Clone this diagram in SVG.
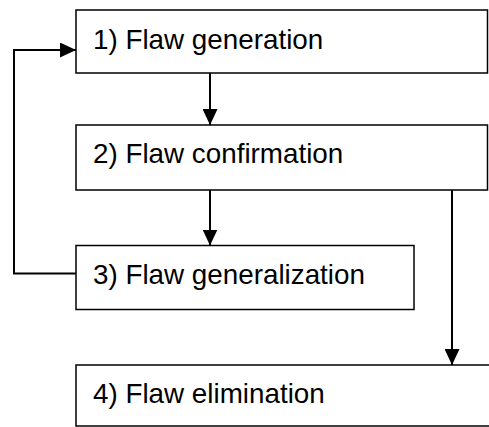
<svg xmlns="http://www.w3.org/2000/svg" width="489" height="427" viewBox="0 0 489 427">
<defs>
<style>
.box{fill:#fff;stroke:#000;stroke-width:1.5}
.lbl{font-family:"Liberation Sans",Arial,sans-serif;font-size:27.8px;fill:#000}
.conn{fill:none;stroke:#000;stroke-width:2}
</style>
<marker id="ah" viewBox="0 0 16 15" refX="16" refY="7.5" markerWidth="16" markerHeight="15" markerUnits="userSpaceOnUse" orient="auto">
<path d="M0,0 L16,7.5 L0,15 Z" fill="#000"/>
</marker>
</defs>
<rect width="489" height="427" fill="#fff"/>
<g id="n1"><rect class="box" x="76" y="10" width="411.5" height="63"/><text class="lbl" x="93" y="48.5">1) Flaw generation</text></g>
<g id="n2"><rect class="box" x="76" y="125" width="411.5" height="65"/><text class="lbl" x="93" y="163">2) Flaw confirmation</text></g>
<g id="n3"><rect class="box" x="76" y="245.5" width="338" height="64"/><text class="lbl" x="93" y="284">3) Flaw generalization</text></g>
<g id="n4"><rect class="box" x="76" y="365" width="430" height="61"/><text class="lbl" x="93" y="403">4) Flaw elimination</text></g>
<g id="connectors">
<path class="conn" d="M210,73 V125" marker-end="url(#ah)"/>
<path class="conn" d="M210,190 V245.5" marker-end="url(#ah)"/>
<path class="conn" d="M452,190 V365" marker-end="url(#ah)"/>
<path class="conn" d="M76,273.5 H14 V50 H76" marker-end="url(#ah)"/>
</g>
</svg>
